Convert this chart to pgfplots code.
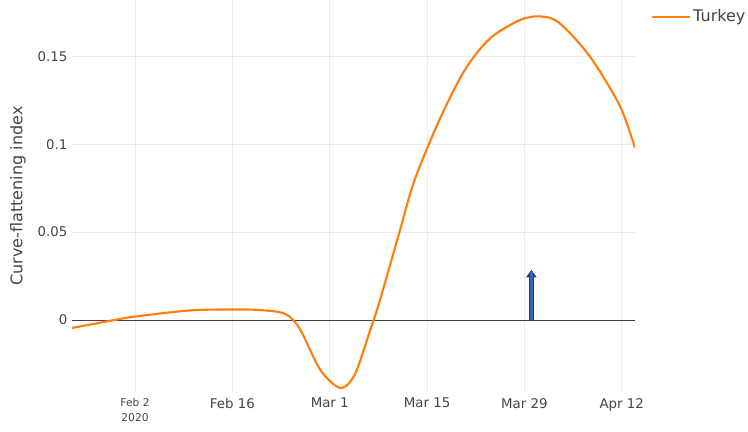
\documentclass[border=0pt]{standalone}
\usepackage{pgfplots}
\pgfplotsset{compat=1.18}
\usepackage{fontspec}
\setmainfont{DejaVu Sans}
\usetikzlibrary{arrows.meta}
\definecolor{plorange}{HTML}{FF7F0E}
\definecolor{ticktext}{HTML}{444444}
\definecolor{arrowblue}{HTML}{3765B0}
\definecolor{arrowedge}{HTML}{1F3D73}
\begin{document}
\begin{tikzpicture}
% x = days after Feb 2, 2020
\begin{axis}[
  name=main,
  scale only axis,
  width=422pt, height=294pt,
  xmin=-9.06, xmax=71.9,
  ymin=-0.041, ymax=0.182,
  axis line style={draw=none},
  tick style={draw=none},
  xtick={0,14,28,42,56,70},
  xticklabels={{\footnotesize Feb 2\\[-1pt]\footnotesize 2020},Feb 16,Mar 1,Mar 15,Mar 29,Apr 12},
  xticklabel style={align=center, font=\normalsize, text=ticktext, yshift=-1pt},
  ytick={0,0.05,0.1,0.15},
  yticklabels={0,0.05,0.1,0.15},
  yticklabel style={font=\normalsize, text=ticktext},
  grid=major,
  grid style={draw=black!8, line width=0.6pt},
  ylabel={Curve-flattening index},
  ylabel style={font=\large, text=ticktext},
  ylabel shift=2pt,
  legend style={at={(1.02,0.99)}, anchor=north west, draw=none, font=\large, text=ticktext},
  legend cell align=left,
  legend image code/.code={\draw[#1] (0cm,0cm) -- (1.0cm,0cm);},
  clip=true,
]
\addplot[black!75, line width=0.7pt, forget plot] coordinates {(-9.06,0) (71.9,0)};
\addplot[plorange, line width=1.6pt, smooth, tension=0.5] coordinates {
  (-9.06,-0.0045) (-2.2,0.0006) (0,0.002) (7.9,0.0055) (13.9,0.006) (18,0.0057)
  (21.6,0.0035) (23.7,-0.005) (26.6,-0.028) (29.5,-0.0386) (31.6,-0.031)
  (33.8,-0.006) (35.2,0.011) (38.1,0.051) (40.2,0.0795) (43.8,0.114)
  (47.4,0.142) (51,0.160) (55.3,0.1705) (58.2,0.1727) (61,0.169)
  (65.4,0.150) (69.7,0.122) (71.9,0.098)
};
\addlegendentry{Turkey}
\addplot[arrowedge, line width=3.6pt, forget plot,
  quiver={u=0, v=0.0285},
  -{Triangle[width=7.5pt, length=5.5pt]}] coordinates {(57,0)};
\addplot[arrowblue, line width=2.2pt, forget plot,
  quiver={u=0, v=0.0275}] coordinates {(57,0.0003)};
\end{axis}
\pgfresetboundingbox
\path[use as bounding box] ([xshift=-54pt, yshift=-29.25pt]main.south west) rectangle ([xshift=84.75pt]main.north east);
\end{tikzpicture}
\end{document}
